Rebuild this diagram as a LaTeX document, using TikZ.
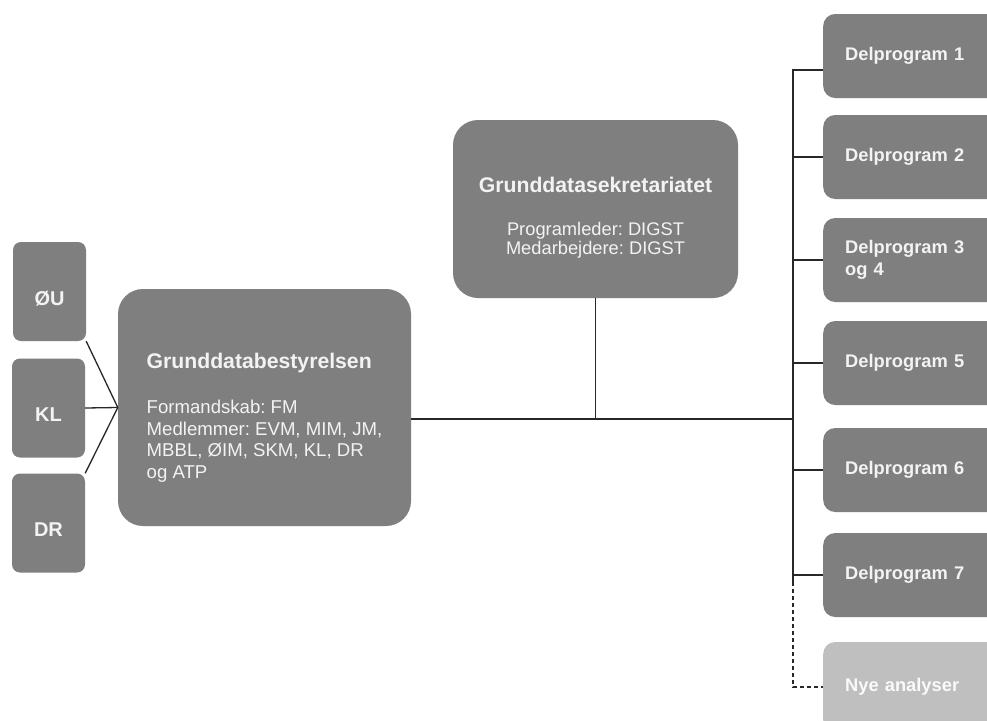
\documentclass[tikz,border=0pt]{standalone}
\usepackage{fontspec}
\setmainfont{Liberation Sans}
\frenchspacing
\definecolor{boxgray}{RGB}{127,127,127}
\definecolor{paleboxgray}{RGB}{191,191,191}
\definecolor{boxtext}{RGB}{243,243,243}
\definecolor{linkgray}{RGB}{40,40,40}

\tikzset{
    orgbox/.style={fill=boxgray,text=boxtext,inner ysep=0pt},
    memberbox/.style={orgbox,rounded corners=8pt,minimum width=73pt,minimum height=99pt,
        text height=27pt,text depth=0pt,font=\fontsize{20}{24}\selectfont\bfseries},
    progbox/.style={orgbox,rounded corners=12pt,anchor=west,minimum height=84pt,
        text width=160pt,inner xsep=22pt,align=left,font=\fontsize{18.3}{21.5}\selectfont\bfseries},
    link/.style={draw=linkgray,line width=1.3pt},
}
\newcommand{\boxtitle}[2]{\rule{0pt}{#1}{\fontsize{21.2}{25}\selectfont\bfseries #2}}
\newcommand{\tightlines}{\setlength{\lineskiplimit}{-20pt}}

\begin{document}
\begin{tikzpicture}[x=1pt,y=-1pt]
    \clip (0,0) rectangle (987,720);
    \fill[white] (0,0) rectangle (987,720);
    %
    % members to the left
    \node[memberbox] (oeu) at (49.5,291.5) {ØU};
    \node[memberbox] (kl) at (48.5,408) {KL};
    \node[memberbox] (dr) at (48.5,523) {DR};
    %
    % board and secretariat
    \node[orgbox,rounded corners=25pt,minimum width=293pt,minimum height=237pt,
        align=left,font=\fontsize{18.6}{21.6}\selectfont] (board) at (264.5,407.5)
        {\boxtitle{36pt}{Grunddatabestyrelsen}\\[23.5pt]
         Formandskab: FM\\
         Medlemmer: EVM, MIM, JM,\\
         MBBL, ØIM, SKM, KL, DR\\
         og ATP};
    \node[orgbox,rounded corners=25pt,minimum width=285pt,minimum height=178pt,
        align=center,font=\fontsize{18.3}{19}\selectfont\tightlines] (sek) at (595.5,209)
        {\boxtitle{32pt}{Grunddatasekretariatet}\\[24pt]
         Programleder: DIGST\\
         Medarbejdere: DIGST};
    %
    % programmes to the right
    \foreach \n/\y/\t in {d1/56/{Delprogram 1},d2/157/{Delprogram 2},d3/260/{Delprogram 3\\og 4},
        d5/363/{Delprogram 5},d6/470/{Delprogram 6},d7/575/{Delprogram 7}}
        \node[progbox] (\n) at (823,\y) {\t};
    \node[progbox,fill=paleboxgray,minimum height=90pt,text=white!92!paleboxgray] (nye) at (823,687) {Nye analyser};
    %
    \coordinate (junction) at (793,419);
    %
    \begin{scope}[link]
        \draw (oeu.south east) -- (board.west);
        \draw (kl.east) -- (board.west);
        \draw (dr.north east) -- (board.west);
        \draw (board.east |- junction) -- (junction);
        \draw (sek.south) -- (sek.south |- junction);
        \draw ([yshift=-14pt]d1.west) -- ([yshift=-14pt]d1.west -| junction)
            -- ([yshift=-7pt]d7.west -| junction);
        \foreach \n in {d2,d3,d5,d6,d7}
            \draw (\n.west) -- (\n.west -| junction);
        \draw[dash pattern=on 4pt off 3pt] ([yshift=-7pt]d7.west -| junction) |- (nye.west);
    \end{scope}
    %
\end{tikzpicture}
\end{document}
